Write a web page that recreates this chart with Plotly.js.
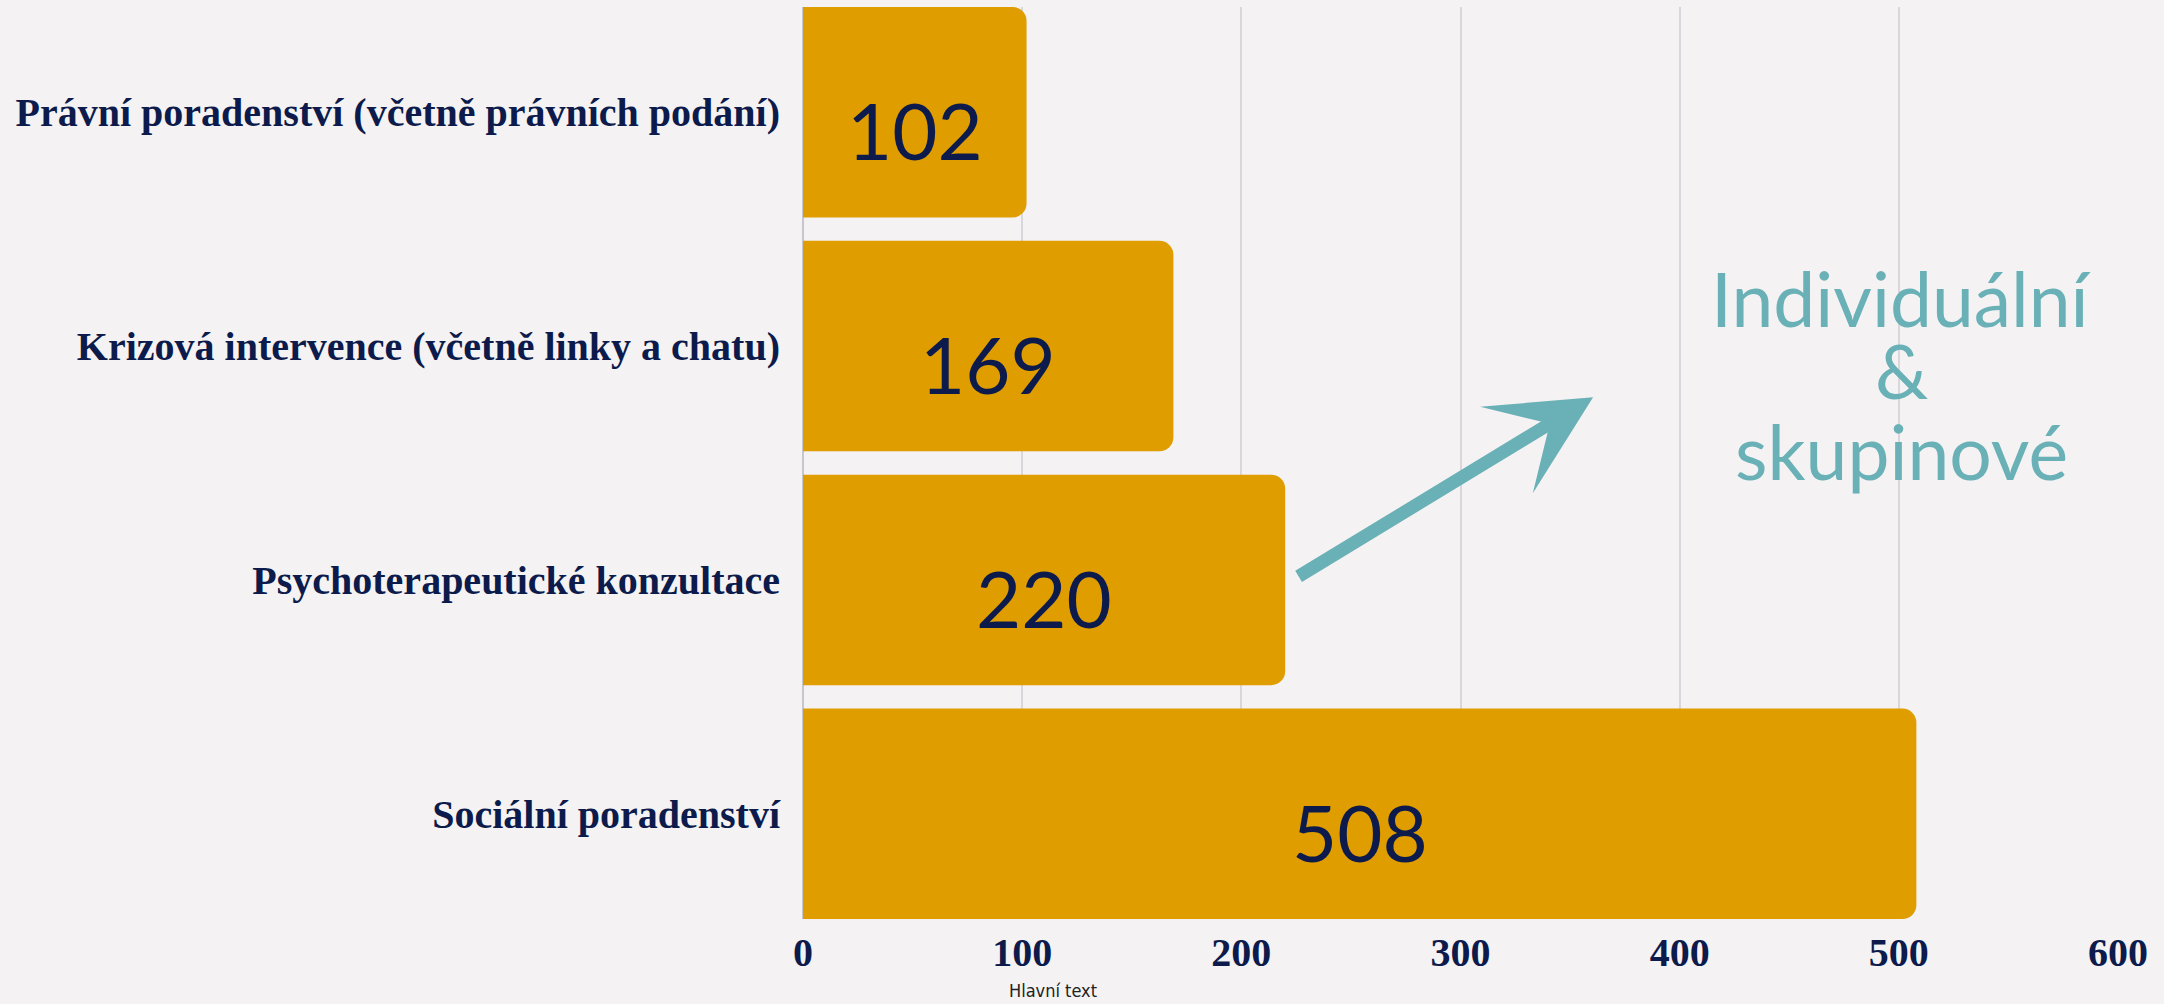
<!DOCTYPE html>
<html>
<head>
<meta charset="utf-8">
<script src="https://cdn.plot.ly/plotly-3.0.1.min.js"></script>
<style>
html,body{margin:0;padding:0;background:#f4f2f3;}
#chart{width:2164px;height:1004px;}
</style>
</head>
<body>
<div id="chart"></div>
<script>
// Data (bottom to top)
const categories = [
  "Sociální poradenství",
  "Psychoterapeutické konzultace",
  "Krizová intervence (včetně linky a chatu)",
  "Právní poradenství (včetně právních podání)"
];
const values = [508, 220, 169, 102];
const tickValues = [0, 100, 200, 300, 400, 500, 600];
const tickLabels = ["0", "100", "200", "300", "400", "500", "600"];
const calloutLines = ["Individuální", "&", "skupinové"];
const footnote = "Hlavní text";

const navy = "#0c1b4b";
const teal = "#69b1b6";
const gold = "#e09d00";
const serif = "'Liberation Serif', 'DejaVu Serif', serif";
const sans = "Lato, 'Open Sans', sans-serif";

const trace = {
  type: "bar",
  orientation: "h",
  y: categories,
  x: values,
  marker: { color: gold, cornerradius: 14, line: { width: 0 } },
  hoverinfo: "skip"
};

const annotations = [];
values.forEach((v, i) => {
  annotations.push({
    x: v / 2, y: categories[i], xref: "x", yref: "y",
    text: String(v), showarrow: false, yshift: -18,
    font: { family: sans, size: 78, color: navy }
  });
});
// callout text lines
const calloutY = [0.681, 0.602, 0.513];
calloutLines.forEach((t, i) => {
  annotations.push({
    x: 501, y: calloutY[i], xref: "x", yref: "paper",
    text: t, showarrow: false, xanchor: "center", yanchor: "middle",
    font: { family: sans, size: 75, color: teal }
  });
});
// arrow
annotations.push({
  x: 360.5, y: 0.572, xref: "x", yref: "paper",
  ax: -296, ay: 180, axref: "pixel", ayref: "pixel",
  text: "", showarrow: true, arrowhead: 3, arrowsize: 1.3, arrowwidth: 13,
  arrowcolor: teal
});
// footnote
annotations.push({
  x: 114, y: -0.078, xref: "x", yref: "paper",
  text: footnote, showarrow: false, xanchor: "center", yanchor: "middle",
  font: { family: "'DejaVu Sans Condensed', 'Liberation Sans', sans-serif", size: 18, color: "#222222" }
});

const layout = {
  width: 2164, height: 1004,
  paper_bgcolor: "#f4f2f3", plot_bgcolor: "#f4f2f3",
  margin: { l: 803, r: 46, t: 7, b: 85 },
  bargap: 0.1,
  showlegend: false,
  xaxis: {
    range: [0, 600], tickvals: tickValues, ticktext: tickLabels,
    showgrid: true, gridcolor: "#dad7dc", gridwidth: 2,
    zeroline: true, zerolinecolor: "#c6c5d2", zerolinewidth: 2,
    showline: false, ticks: "",
    tickfont: { family: serif, size: 40, color: navy, weight: "bold" },
    ticklabelstandoff: 6,
    fixedrange: true
  },
  yaxis: {
    type: "category", range: [-0.45, 3.45],
    showgrid: false, zeroline: false, showline: false, ticks: "",
    tickfont: { family: serif, size: 40, color: navy, weight: "bold" },
    ticklabelstandoff: 22,
    fixedrange: true
  },
  annotations: annotations
};

Plotly.newPlot("chart", [trace], layout, { displayModeBar: false, staticPlot: true });
</script>
</body>
</html>
